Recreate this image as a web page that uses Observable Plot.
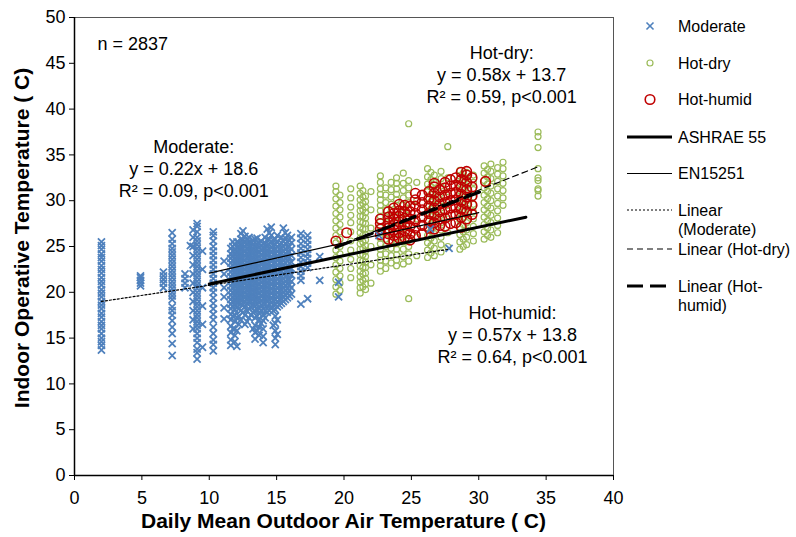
<!DOCTYPE html>
<html><head><meta charset="utf-8">
<script src="https://cdn.jsdelivr.net/npm/d3@7"></script>
<script src="https://cdn.jsdelivr.net/npm/@observablehq/plot@0.6"></script>
<style>
body{margin:0;background:#fff;font-family:"Liberation Sans",Arial,sans-serif;}
#wrap{position:relative;width:796px;height:537px;overflow:hidden;}
#chart{position:absolute;left:0;top:0;}
.title{position:absolute;font-weight:bold;font-size:21px;white-space:nowrap;color:#000;}
#legend{position:absolute;left:620px;top:0;}
</style></head><body>
<div id="wrap"><div id="chart"></div>
<div class="title" id="xtitle">Daily Mean Outdoor Air Temperature ( C)</div>
<div class="title" id="ytitle">Indoor Operative Temperature ( C)</div>
<svg id="legend" width="176" height="330"></svg>
</div>
<script>
// ---- data: [x, [y values]] columns ----
const moderateCols = [
 [2.0, [13.7,14.2,14.6,15.0,15.5,16.0,16.4,16.8,17.3,17.7,18.2,18.6,19.0,19.5,19.9,20.3,20.8,21.2,21.6,22.1,22.5,22.9,23.4,23.8,24.2,24.7,25.1,25.5]],
 [4.9, [20.7,21.0,21.3,21.6,21.8]],
 [6.6, [20.5,21.0,21.4,21.8,22.2]],
 [7.25,[13.1,14.4,15.5,16.2,16.9,17.5,18.0,18.4,19.2,19.6,20.0,20.4,20.8,21.2,21.6,22.0,22.4,22.8,23.2,23.6,24.0,24.4,24.8,25.3,25.8,26.5]],
 [8.2, [20.5,21.0,21.5,22.0]],
 [8.6, [25.1]],
 [8.8, [16.0,17.0,18.0,19.0,20.0,21.0,22.0,23.0,24.0,25.0,26.0,26.8]],
 [9.1, [12.7,13.4,13.8,14.5,15.0,15.5,16.0,16.4,16.8,17.2,17.6,18.0,18.4,18.8,19.2,19.6,20.0,20.4,20.8,21.2,21.6,22.0,22.4,22.8,23.2,23.6,24.0,24.4,24.8,25.2,25.6,26.0,26.6,27.2,27.5]],
 [9.5, [14.0,16.5,18.5,20.5,22.5,24.5]],
 [10.3,[13.6,14.3,14.8,15.5,16.2,17.0,17.6,18.2,18.8,19.4,20.0,20.5,21.0,21.5,22.0,22.5,23.0,23.5,24.0,24.5,25.0,25.6,26.2,26.6]],
 [11.1,[17.1,18.3,19.5,20.5,22.0,23.4]],
 [11.6,[14.2,14.8,15.6,16.3,17.0,17.6,18.2,18.7,19.2,19.7,20.2,20.7,21.2,21.7,22.2,22.7,23.2,23.7,24.2,24.8]],
 [11.75,[16.0,17.4,18.5,19.0,19.5,20.0,20.5,21.0,21.5,22.0,22.5,23.0,23.5,24.0,24.5,25.0,25.5]],
 [11.9,[14.6,15.3,16.0,16.8,17.5,18.1,18.6,19.1,19.6,20.1,20.6,21.1,21.6,22.1,22.6,23.1,23.6,24.1,24.6,25.2]],
 [12.05,[14.1,15.8,17.2,18.4,18.9,19.4,19.9,20.4,20.9,21.4,21.9,22.4,22.9,23.4,23.9,24.4,24.9,25.5]],
 [12.2,[16.5,17.4,18.2,18.9,19.4,19.9,20.4,20.9,21.4,21.9,22.4,22.9,23.4,23.9,24.4,24.9,25.4]],
 [12.35,[17.0,18.0,18.7,19.2,19.7,20.2,20.7,21.2,21.7,22.2,22.7,23.2,23.7,24.2,24.7,25.2,25.8,26.4]],
 [12.5,[17.8,18.6,19.2,19.7,20.2,20.7,21.2,21.7,22.2,22.7,23.2,23.7,24.2,24.7,25.2,25.7,26.7]],
 [12.65,[16.5,17.5,18.4,19.0,19.5,20.0,20.5,21.0,21.5,22.0,22.5,23.0,23.5,24.0,24.5,25.0,25.5,26.1]],
 [12.8,[16.8,18.0,18.8,19.3,19.8,20.3,20.8,21.3,21.8,22.3,22.8,23.3,23.8,24.3,24.8,25.3,25.8]],
 [12.95,[17.2,18.2,18.9,19.4,19.9,20.4,20.9,21.4,21.9,22.4,22.9,23.4,23.9,24.4,24.9,25.4,26.0]],
 [13.1,[17.5,18.4,19.0,19.5,20.0,20.5,21.0,21.5,22.0,22.5,23.0,23.5,24.0,24.5,25.0,25.5]],
 [13.25,[16.0,17.8,18.6,19.2,19.7,20.2,20.7,21.2,21.7,22.2,22.7,23.2,23.7,24.2,24.7,25.2,25.7]],
 [13.4,[14.9,15.6,16.4,17.2,17.9,18.5,19.1,19.6,20.1,20.6,21.1,21.6,22.1,22.6,23.1,23.6,24.1,24.6,25.1,25.8]],
 [13.55,[15.8,17.4,18.1,18.7,19.2,19.7,20.2,20.7,21.2,21.7,22.2,22.7,23.2,23.7,24.2,24.7,25.2,25.9]],
 [13.7,[15.3,16.2,17.0,17.7,18.3,18.9,19.4,19.9,20.4,20.9,21.4,21.9,22.4,22.9,23.4,23.9,24.4,24.9,25.4]],
 [13.85,[16.6,18.0,18.6,19.1,19.6,20.1,20.6,21.1,21.6,22.1,22.6,23.1,23.6,24.1,24.6,25.1,25.6]],
 [14.0,[14.5,15.2,16.0,16.9,17.6,18.2,18.8,19.3,19.8,20.3,20.8,21.3,21.8,22.3,22.8,23.3,23.8,24.3,24.8,25.3]],
 [14.15,[17.2,18.0,18.7,19.3,19.8,20.3,20.8,21.3,21.8,22.3,22.8,23.3,23.8,24.3,24.8,25.4,26.0]],
 [14.3,[17.8,18.5,19.1,19.6,20.1,20.6,21.1,21.6,22.1,22.6,23.1,23.6,24.1,24.6,25.1,25.7,26.9]],
 [14.45,[18.0,18.7,19.2,19.7,20.2,20.7,21.2,21.7,22.2,22.7,23.2,23.7,24.2,24.7,25.2,25.8,26.5]],
 [14.6,[18.3,18.9,19.4,19.9,20.4,20.9,21.4,21.9,22.4,22.9,23.4,23.9,24.4,24.9,25.5,26.2,27.1]],
 [14.75,[16.4,18.0,18.6,19.1,19.6,20.1,20.6,21.1,21.6,22.1,22.6,23.1,23.6,24.1,24.6,25.1,25.7]],
 [14.9,[14.3,15.0,15.8,16.6,17.4,18.1,18.7,19.2,19.7,20.2,20.7,21.2,21.7,22.2,22.7,23.2,23.7,24.2,24.7,25.2,25.8]],
 [15.05,[15.4,17.0,18.4,19.0,19.5,20.0,20.5,21.0,21.5,22.0,22.5,23.0,23.5,24.0,24.5,25.0,25.5,26.2]],
 [15.2,[18.6,19.2,19.7,20.2,20.7,21.2,21.7,22.2,22.7,23.2,23.7,24.2,24.7,25.2]],
 [15.35,[18.8,19.3,19.8,20.3,20.8,21.3,21.8,22.3,22.8,23.3,23.8,24.3,24.8,25.4,26.0]],
 [15.5,[19.0,19.5,20.0,20.5,21.0,21.5,22.0,22.5,23.0,23.5,24.0,24.5,25.0,25.6,27.0]],
 [15.65,[19.2,19.7,20.2,20.7,21.2,21.7,22.2,22.7,23.2,23.7,24.2,24.7,25.3,25.9,26.5]],
 [15.8,[19.4,19.9,20.4,20.9,21.4,21.9,22.4,22.9,23.4,23.9,24.4,24.9,25.5,26.2]],
 [15.95,[19.6,20.2,20.8,21.4,22.0,22.6,23.2,23.8,24.4,25.0,25.7]],
 [16.1,[19.8,20.5,21.2,21.9,22.6,23.3,24.0,24.7,25.4,26.0]],
 [16.8,[18.7,21.3,21.8,22.3,22.8,23.3,23.8,24.3,24.8,25.3,25.9,26.4]],
 [17.3,[19.3,22.7,23.2,23.7,24.2,24.7,25.2,25.7,26.2]],
 [18.2,[21.3,23.9]],
 [19.6,[19.5,21.1]],
 [22.6,[26.2]],
 [26.4,[26.9]],
 [27.8,[24.8]]
];
const hotDryCols = [
 [19.4,[19.8,20.6,21.4,22.2,23.0,23.8,24.6,25.4,26.2,27.0,27.8,28.6,29.4,30.2,31.0,31.6]],
 [19.7,[20.2,21.0,21.8,22.6,23.4,24.2,25.0,25.8,26.6,27.4,28.2,29.0,29.8,30.6]],
 [20.5,[21.6,22.6,23.6,24.6,25.6,26.6,27.6,28.4,29.3,30.3,31.3]],
 [21.2,[19.9,20.5,21.1,21.7,22.3,22.9,23.5,24.1,24.7,25.3,25.9,26.5,27.1,27.7,28.3,28.9,29.5,30.1,30.8,31.6]],
 [21.4,[20.6,21.3,22.0,22.7,23.4,24.1,24.8,25.5,26.2,26.9,27.6,28.3,29.0,29.7,30.4,31.1]],
 [21.6,[20.3,20.9,21.5,22.1,22.7,23.3,23.9,24.5,25.1,25.7,26.3,26.9,27.5,28.1,28.7,29.3,29.9,30.5]],
 [22.0,[21.0,23.0,25.0,27.0,29.0,31.0]],
 [22.7,[22.3,22.9,23.5,24.1,24.7,25.3,25.9,26.5,27.1,27.7,28.3,28.9,29.5,30.1,30.7,31.3,32.0,32.7]],
 [23.1,[22.6,23.4,24.2,25.0,25.8,26.6,27.4,28.2,29.0,29.8,30.6,31.4]],
 [23.5,[23.2,24.0,24.8,25.6,26.4,27.2,28.0,28.8,29.6,30.4,31.2,32.0]],
 [23.9,[22.9,23.5,24.1,24.7,25.3,25.9,26.5,27.1,27.7,28.3,28.9,29.5,30.1,30.7,31.3,31.9,32.5]],
 [24.4,[23.1,23.9,24.7,25.5,26.3,27.1,27.9,28.7,29.5,30.3,31.1,31.9,33.0]],
 [24.8,[19.3,23.4,24.2,25.0,25.8,26.6,27.4,28.2,29.0,29.8,30.6,31.4,32.2,38.4]],
 [25.4,[24.0,26.0,28.0,30.0,32.0]],
 [26.2,[23.8,24.6,25.4,26.2,27.0,27.8,28.6,29.4,30.2,31.0,31.8,32.6,33.5]],
 [26.45,[24.3,25.1,25.9,26.7,27.5,28.3,29.1,29.9,30.7,31.5,32.3,33.1]],
 [26.7,[24.0,24.8,25.6,26.4,27.2,28.0,28.8,29.6,30.4,31.2,32.0,32.8]],
 [27.2,[24.4,25.2,26.0,26.8,27.6,28.4,29.2,30.0,30.8,31.6,32.4,33.2]],
 [27.7,[25.0,26.5,28.0,29.5,31.0,32.5,35.9]],
 [28.6,[24.7,25.5,26.3,27.1,27.9,28.7,29.5,30.3,31.1,31.9,32.7,33.3]],
 [28.85,[25.0,25.8,26.6,27.4,28.2,29.0,29.8,30.6,31.4,32.2,33.0]],
 [29.1,[25.2,26.0,26.8,27.6,28.4,29.2,30.0,30.8,31.6,32.4,33.1]],
 [29.6,[25.6,26.4,27.2,28.0,28.8,29.6,30.4,31.2,32.0,32.8]],
 [30.4,[25.8,26.6,27.4,28.2,29.0,29.8,30.6,31.4,32.2,33.0,33.8]],
 [30.65,[26.2,27.0,27.8,28.6,29.4,30.2,31.0,31.8,32.6,33.4]],
 [30.9,[26.0,26.8,27.6,28.4,29.2,30.0,30.8,31.6,32.4,33.2,34.0]],
 [31.4,[26.5,27.3,28.1,28.9,29.7,30.5,31.3,32.1,32.9,33.6]],
 [31.8,[29.5,30.3,31.1,31.9,32.7,33.5,34.2]],
 [34.4,[30.5,31.1,31.3,32.2,32.5,33.5,35.8,37.0,37.5]]
];
const hotHumidCols = [
 [19.4,[25.6]],
 [20.2,[26.5]],
 [22.7,[26.3,26.9,27.5,28.0]],
 [23.3,[25.8,26.4,27.0,27.6,28.2,28.8]],
 [23.7,[25.6,26.2,26.8,27.4,28.0,28.6,29.2]],
 [24.1,[25.9,26.5,27.1,27.7,28.3,28.9,29.6]],
 [24.5,[26.0,26.7,27.4,28.1,28.8,29.5]],
 [24.9,[25.7,26.4,27.2,28.0,28.8,29.4]],
 [25.3,[26.2,27.0,27.8,28.6,29.4,30.1,30.8]],
 [25.8,[26.4,27.3,28.2,29.0,29.8,30.6]],
 [26.3,[27.0,27.8,28.6,29.4,30.2,31.0]],
 [26.7,[26.9,27.6,28.4,29.2,30.0,30.8,31.5,31.9]],
 [27.1,[27.3,28.0,28.8,29.6,30.4,31.2]],
 [27.5,[27.2,28.1,29.0,29.8,30.6,31.4,32.0]],
 [27.9,[27.5,28.4,29.2,30.0,30.8,31.6,32.3]],
 [28.3,[27.6,28.5,29.3,30.1,30.9,31.7,32.5]],
 [28.7,[27.1,28.2,29.1,29.9,30.7,31.5,32.3,33.1]],
 [29.1,[28.0,28.8,29.6,30.4,31.2,32.0,32.8,33.2]],
 [29.5,[28.5,29.5,30.5,31.5,32.5]],
 [30.5,[32.1]]
];
// comfort standard lines and linear fits (end points)
const ashrae55 = [[10, 20.9], [33.5, 28.2]];
const en15251 = [[10, 22.1], [30, 28.7]];
const fitModerate = [[2, 19.0], [27.8, 24.7]];
const fitHotDry = [[19.4, 25.0], [34.4, 33.7]];
const fitHotHumid = [[19.4, 24.9], [30.5, 31.2]];
const xTicks = [0, 5, 10, 15, 20, 25, 30, 35, 40];
const yTicks = [0, 5, 10, 15, 20, 25, 30, 35, 40, 45, 50];
const countNote = [{x: 1.7, y: 47.05, text: "n = 2837"}];
const fitNotes = [
 {x: 31.7, y: 43.8, text: "Hot-dry:\ny = 0.58x + 13.7\nR² = 0.59, p<0.001"},
 {x: 8.85, y: 33.6, text: "Moderate:\ny = 0.22x + 18.6\nR² = 0.09, p<0.001"},
 {x: 32.5, y: 15.5, text: "Hot-humid:\ny = 0.57x + 13.8\nR² = 0.64, p<0.001"}
];
const legendLabels = [["Moderate"], ["Hot-dry"], ["Hot-humid"], ["ASHRAE 55"], ["EN15251"], ["Linear", "(Moderate)"], ["Linear (Hot-dry)"], ["Linear (Hot-", "humid)"]];

const BLUE = "#4F81BD", GREEN = "#9BBB59", RED = "#C00000";
const flat = cols => cols.flatMap(([x, ys]) => ys.map(y => ({x, y})));
const seg = pts => pts.map(([x, y]) => ({x, y}));

const chart = Plot.plot({
  width: 630, height: 537,
  marginLeft: 74, marginRight: 17, marginTop: 17, marginBottom: 62,
  style: {fontFamily: "'Liberation Sans', Arial, sans-serif", fontSize: "18px", color: "#000", background: "transparent"},
  x: {domain: [0, 40]},
  y: {domain: [0, 50]},
  marks: [
    Plot.frame({stroke: "#555", strokeWidth: 1}),
    Plot.axisX({ticks: xTicks, tickSize: 5, tickPadding: 11, label: null, fontSize: 18}),
    Plot.axisY({ticks: yTicks, tickSize: 5, tickPadding: 4, label: null, fontSize: 18}),
    Plot.dot(flat(hotDryCols), {x: "x", y: "y", r: 3, stroke: GREEN, strokeWidth: 1.2, fill: "none"}),
    Plot.dot(flat(hotHumidCols), {x: "x", y: "y", r: 4.8, stroke: RED, strokeWidth: 1.6, fill: "none"}),
    Plot.dot(flat(moderateCols), {x: "x", y: "y", symbol: "times", r: 3.3, stroke: BLUE, strokeWidth: 1.8}),
    Plot.line(seg(ashrae55), {x: "x", y: "y", stroke: "#000", strokeWidth: 3}),
    Plot.line(seg(en15251), {x: "x", y: "y", stroke: "#000", strokeWidth: 1.2}),
    Plot.line(seg(fitModerate), {x: "x", y: "y", stroke: "#000", strokeWidth: 1.2, strokeDasharray: "2,2"}),
    Plot.line(seg(fitHotDry), {x: "x", y: "y", stroke: "#000", strokeWidth: 1.2, strokeDasharray: "6,4"}),
    Plot.line(seg(fitHotHumid), {x: "x", y: "y", stroke: "#000", strokeWidth: 3, strokeDasharray: "16,7"}),
    Plot.ruleX([0], {stroke: "#000", strokeWidth: 1.5}),
    Plot.ruleY([0], {stroke: "#000", strokeWidth: 1.5}),
    Plot.text(countNote, {x: "x", y: "y", text: "text", textAnchor: "start", fontSize: 18, fill: "#000"}),
    Plot.text(fitNotes, {x: "x", y: "y", text: "text", textAnchor: "middle", lineHeight: 1.22, fontSize: 18, fill: "#000"})
  ]
});
document.getElementById("chart").appendChild(chart);

// axis titles
const xt = document.getElementById("xtitle");
xt.style.left = (343.5 - xt.offsetWidth / 2) + "px";
xt.style.top = (521 - xt.offsetHeight / 2) + "px";
const yt = document.getElementById("ytitle");
yt.style.left = (22 - yt.offsetWidth / 2) + "px";
yt.style.top = (238 - yt.offsetHeight / 2) + "px";
yt.style.transform = "rotate(-90deg)";

// legend
const lg = d3.select("#legend");
const rows = [26, 63, 99.5, 137, 173.5, 210, 249, 286];
const tx = 58, sx = 30;
const g = lg.append("g").attr("font-family", "'Liberation Sans', Arial, sans-serif").attr("font-size", 16);
g.append("path").attr("d", d3.symbol(d3.symbolTimes, 34)()).attr("transform", `translate(${sx},${rows[0]})`).attr("stroke", BLUE).attr("stroke-width", 1.6).attr("fill", "none");
g.append("circle").attr("cx", sx).attr("cy", rows[1]).attr("r", 3).attr("stroke", GREEN).attr("stroke-width", 1.2).attr("fill", "none");
g.append("circle").attr("cx", sx).attr("cy", rows[2]).attr("r", 4.8).attr("stroke", RED).attr("stroke-width", 1.6).attr("fill", "none");
const lineStyles = [
  {w: 3, dash: null}, {w: 1.2, dash: null}, {w: 1.2, dash: "2,2"}, {w: 1.2, dash: "6,4"}, {w: 3, dash: "16,7"}
];
lineStyles.forEach((s, i) => {
  const l = g.append("line").attr("x1", 7).attr("x2", 52).attr("y1", rows[i + 3]).attr("y2", rows[i + 3])
    .attr("stroke", "#000").attr("stroke-width", s.w);
  if (s.dash) l.attr("stroke-dasharray", s.dash);
});
legendLabels.forEach((ls, i) => {
  const t = g.append("text").attr("y", rows[i]);
  ls.forEach((s, j) => t.append("tspan").attr("x", tx).attr("dy", j === 0 ? "0.35em" : "1.2em").text(s));
});
</script>
</body></html>
